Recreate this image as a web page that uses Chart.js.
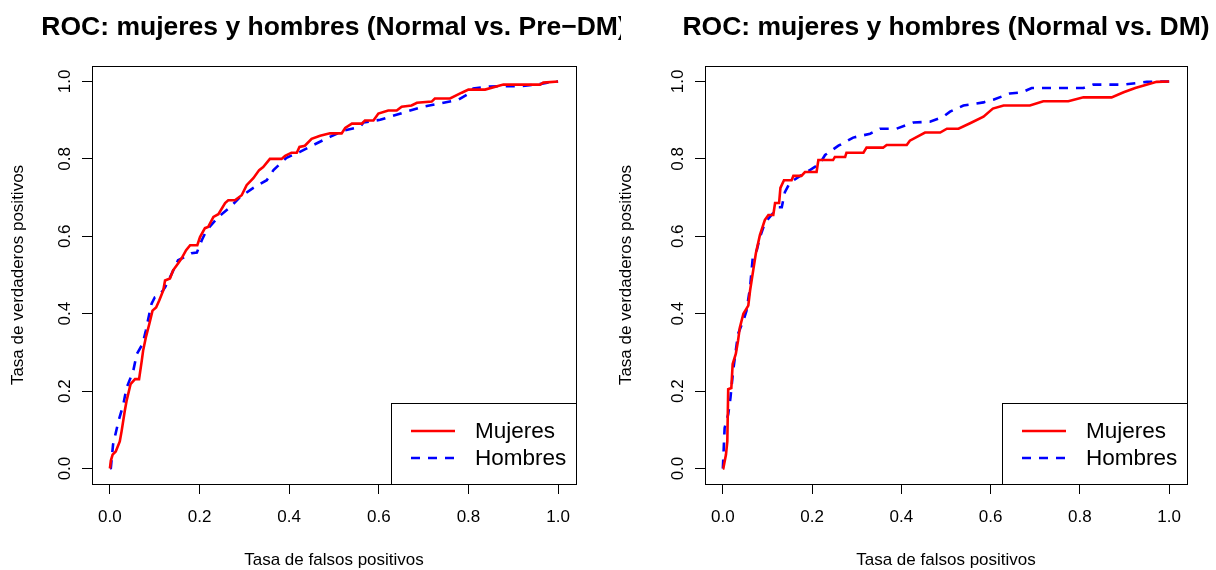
<!DOCTYPE html>
<html><head><meta charset="utf-8">
<script src="https://cdn.jsdelivr.net/npm/chart.js@4"></script>
<style>
html,body{margin:0;padding:0;background:#fff;}
#wrap{position:relative;width:1216px;height:570px;overflow:hidden;background:#fff;}
canvas{position:absolute;top:0;}
</style></head><body>
<div id="wrap">
<canvas id="c1" width="621" height="570" style="left:0px"></canvas>
<canvas id="c2" width="608" height="570" style="left:608px"></canvas>
</div>
<script>
const tickValues = [0, 0.2, 0.4, 0.6, 0.8, 1.0];
const tickLabels = ["0.0", "0.2", "0.4", "0.6", "0.8", "1.0"];
const seriesNames = ["Mujeres", "Hombres"];
const chartTitles = ["ROC: mujeres y hombres (Normal vs. Pre\u2212DM)", "ROC: mujeres y hombres (Normal vs. DM)"];
const xAxisTitle = "Tasa de falsos positivos";
const yAxisTitle = "Tasa de verdaderos positivos";

// Panel 1: Normal vs. Pre-DM
const fprMujeresPre = [0,0.002,0.006,0.013,0.022,0.026,0.033,0.037,0.046,0.056,0.065,0.071,0.074,0.080,0.088,0.095,0.103,0.110,0.119,0.123,0.134,0.141,0.152,0.160,0.170,0.179,0.195,0.201,0.212,0.219,0.231,0.242,0.257,0.264,0.279,0.294,0.305,0.320,0.333,0.342,0.357,0.383,0.391,0.405,0.417,0.423,0.435,0.450,0.469,0.491,0.517,0.525,0.540,0.562,0.569,0.588,0.599,0.621,0.640,0.651,0.673,0.685,0.718,0.725,0.759,0.785,0.800,0.837,0.878,0.960,0.967,1.0];
const tprMujeresPre = [0,0.02,0.036,0.044,0.07,0.096,0.148,0.174,0.218,0.231,0.231,0.278,0.304,0.338,0.374,0.408,0.416,0.434,0.460,0.486,0.491,0.512,0.530,0.543,0.564,0.577,0.577,0.598,0.621,0.624,0.650,0.657,0.686,0.693,0.693,0.706,0.732,0.750,0.771,0.779,0.800,0.800,0.808,0.816,0.816,0.831,0.834,0.852,0.860,0.866,0.866,0.880,0.891,0.891,0.899,0.899,0.917,0.925,0.925,0.935,0.938,0.945,0.948,0.956,0.956,0.971,0.979,0.979,0.992,0.992,0.997,1.0];
const fprHombresPre = [0,0.002,0.007,0.019,0.030,0.037,0.052,0.060,0.073,0.080,0.088,0.093,0.100,0.110,0.123,0.134,0.152,0.164,0.182,0.194,0.205,0.216,0.242,0.268,0.290,0.320,0.350,0.365,0.394,0.424,0.454,0.491,0.521,0.558,0.566,0.603,0.662,0.699,0.737,0.778,0.804,0.811,0.848,0.871,0.915,0.953,0.982,1.0];
const tprHombresPre = [0,0.001,0.062,0.122,0.166,0.208,0.252,0.296,0.322,0.356,0.400,0.426,0.442,0.447,0.468,0.494,0.538,0.545,0.556,0.558,0.590,0.616,0.650,0.675,0.701,0.725,0.745,0.771,0.803,0.818,0.836,0.857,0.873,0.883,0.894,0.901,0.922,0.935,0.943,0.953,0.971,0.982,0.987,0.988,0.988,0.992,0.998,1.0];

// Panel 2: Normal vs. DM
const fprMujeresDM = [0,0.001,0.007,0.010,0.012,0.019,0.022,0.029,0.034,0.038,0.046,0.057,0.061,0.068,0.074,0.083,0.094,0.102,0.113,0.117,0.126,0.129,0.137,0.154,0.158,0.176,0.184,0.210,0.214,0.247,0.251,0.274,0.277,0.315,0.322,0.359,0.367,0.412,0.419,0.453,0.487,0.502,0.528,0.554,0.584,0.605,0.629,0.688,0.718,0.774,0.808,0.871,0.898,0.924,0.972,1.0];
const tprMujeresDM = [0,0,0.036,0.070,0.205,0.208,0.270,0.296,0.330,0.364,0.400,0.421,0.460,0.512,0.556,0.603,0.642,0.655,0.655,0.686,0.686,0.725,0.745,0.745,0.756,0.756,0.766,0.766,0.797,0.797,0.805,0.805,0.816,0.816,0.829,0.829,0.836,0.836,0.847,0.868,0.868,0.878,0.878,0.892,0.909,0.930,0.938,0.938,0.949,0.949,0.959,0.959,0.972,0.983,0.999,1.0];
const fprHombresDM = [0,0.002,0.004,0.012,0.017,0.023,0.034,0.046,0.053,0.061,0.067,0.076,0.083,0.094,0.109,0.124,0.132,0.139,0.150,0.169,0.195,0.217,0.229,0.259,0.292,0.330,0.352,0.389,0.427,0.464,0.494,0.509,0.539,0.584,0.606,0.643,0.670,0.692,0.808,0.830,0.898,0.950,1.0];
const tprHombresDM = [0,0.053,0.105,0.140,0.182,0.252,0.348,0.382,0.408,0.468,0.545,0.564,0.597,0.634,0.655,0.675,0.675,0.714,0.738,0.753,0.771,0.787,0.810,0.834,0.855,0.865,0.878,0.878,0.894,0.896,0.909,0.922,0.938,0.946,0.953,0.969,0.972,0.983,0.983,0.992,0.992,0.999,1.0];

const FONT = "'Liberation Sans', Arial, Helvetica, sans-serif";
Chart.defaults.font.family = FONT;

const decor = {
  id: 'decor',
  afterDraw(chart, args, opts) {
    const ctx = chart.ctx, a = chart.chartArea;
    const cx = (a.left + a.right) / 2, cy = (a.top + a.bottom) / 2;
    ctx.save();
    // box
    ctx.strokeStyle = '#000'; ctx.lineWidth = 1;
    ctx.strokeRect(Math.round(a.left) + 0.5, Math.round(a.top) + 0.5, Math.round(a.right - a.left), Math.round(a.bottom - a.top));
    ctx.fillStyle = '#000';
    // main title
    ctx.font = 'bold 26.5px ' + FONT;
    ctx.textAlign = 'center'; ctx.textBaseline = 'middle';
    ctx.fillText(opts.title, cx, 28);
    // x title
    ctx.font = '17px ' + FONT;
    ctx.fillText(xAxisTitle, cx, 560);
    // y title
    ctx.save(); ctx.translate(18, cy); ctx.rotate(-Math.PI / 2);
    ctx.fillText(yAxisTitle, 0, 0); ctx.restore();
    // y tick labels (rotated, R style)
    const ys = chart.scales.y;
    tickValues.forEach((v, i) => {
      const py = ys.getPixelForValue(v);
      ctx.save(); ctx.translate(a.left - 27, py); ctx.rotate(-Math.PI / 2);
      ctx.fillText(tickLabels[i], 0, 0); ctx.restore();
    });
    // legend
    const lw = 185, lh = 81;
    const lx = a.right - lw, ly = a.bottom - lh;
    ctx.fillStyle = '#fff'; ctx.fillRect(lx, ly, lw, lh);
    ctx.strokeStyle = '#000'; ctx.lineWidth = 1;
    ctx.strokeRect(Math.round(lx) + 0.5, Math.round(ly) + 0.5, lw, lh);
    ctx.font = '22.5px ' + FONT; ctx.textAlign = 'left'; ctx.fillStyle = '#000';
    chart.data.datasets.forEach((ds, i) => {
      const ry = ly + 28 + i * 27;
      ctx.save();
      ctx.strokeStyle = ds.borderColor; ctx.lineWidth = ds.borderWidth;
      ctx.setLineDash(ds.borderDash || []);
      ctx.beginPath(); ctx.moveTo(lx + 20, ry); ctx.lineTo(lx + 64, ry); ctx.stroke();
      ctx.restore();
      ctx.fillText(ds.label, lx + 84, ry + 1);
    });
    ctx.restore();
  }
};

function makeChart(id, title, xs1, ys1, xs2, ys2, areaLeft, areaRight, W) {
  const H = 570, top = 66, bottom = 484;
  const pts = (xs, ys) => xs.map((x, i) => ({ x: x, y: ys[i] }));
  const axisCommon = {
    type: 'linear', min: -0.04, max: 1.04,
    afterBuildTicks: s => { s.ticks = tickValues.map(v => ({ value: v })); },
    grid: { display: true, drawOnChartArea: false, drawTicks: true, tickLength: 10, color: '#000', lineWidth: 1 },
    border: { display: true, color: '#000', width: 1 }
  };
  return new Chart(document.getElementById(id), {
    type: 'scatter',
    data: {
      datasets: [
        { label: seriesNames[0], data: pts(xs1, ys1), showLine: true, borderColor: '#ff0000', backgroundColor: '#ff0000', borderWidth: 2.6, pointRadius: 0, tension: 0, fill: false },
        { label: seriesNames[1], data: pts(xs2, ys2), showLine: true, borderColor: '#0000ff', backgroundColor: '#0000ff', borderWidth: 2.6, borderDash: [9, 8], pointRadius: 0, tension: 0, fill: false }
      ]
    },
    options: {
      responsive: false, animation: false, devicePixelRatio: 1,
      layout: { padding: { left: 0, right: W - areaRight, top: top, bottom: 0 } },
      plugins: { legend: { display: false }, tooltip: { enabled: false }, title: { display: false }, decor: { title: title } },
      scales: {
        x: Object.assign({}, axisCommon, {
          afterFit: s => { s.height = H - bottom; },
          ticks: {
            autoSkip: false, maxRotation: 0, minRotation: 0, color: '#000', font: { size: 17 }, padding: 13,
            callback: v => { const i = tickValues.findIndex(t => Math.abs(t - v) < 1e-9); return i >= 0 ? tickLabels[i] : ''; }
          }
        }),
        y: Object.assign({}, axisCommon, {
          afterFit: s => { s.width = areaLeft; },
          ticks: { display: false }
        })
      }
    },
    plugins: [decor]
  });
}

makeChart('c1', chartTitles[0], fprMujeresPre, tprMujeresPre, fprHombresPre, tprHombresPre, 92, 576, 621);
makeChart('c2', chartTitles[1], fprMujeresDM, tprMujeresDM, fprHombresDM, tprHombresDM, 97, 579, 608);
</script>
</body></html>
